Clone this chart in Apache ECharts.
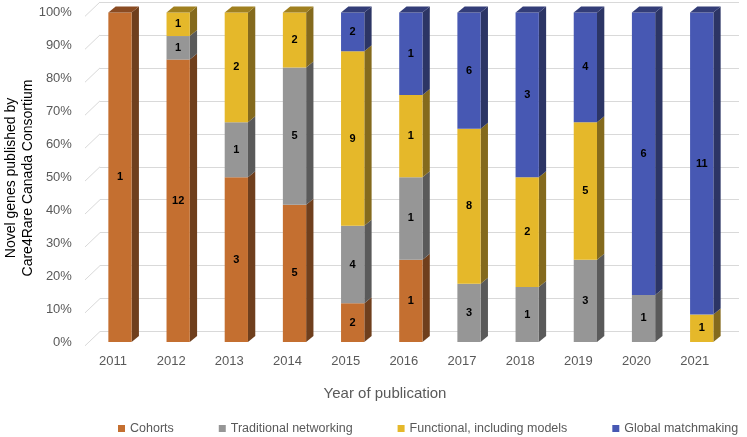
<!DOCTYPE html>
<html><head><meta charset="utf-8">
<script src="https://cdn.jsdelivr.net/npm/echarts@6/dist/echarts.min.js"></script>
<style>html,body{margin:0;padding:0;background:#fff}#c{width:747px;height:437px}</style>
</head><body><div id="c"></div><script>
const years = ['2011','2012','2013','2014','2015','2016','2017','2018','2019','2020','2021'];
const cohorts     = [1,12,3,5,2,1,0,0,0,0,0];
const traditional = [0,1,1,5,4,1,3,1,3,1,0];
const functional  = [0,1,2,2,9,1,8,2,5,0,1];
const globalMatch = [0,0,0,0,2,1,6,3,4,6,11];
const seriesNames = ['Cohorts','Traditional networking','Functional, including models','Global matchmaking'];
const yTicks = [0,10,20,30,40,50,60,70,80,90,100];

const colors = [
  {front:'#C46F30', side:'#6F3F1D', top:'#8A4B22'},
  {front:'#969696', side:'#5A5A5A', top:'#6C6C6C'},
  {front:'#E5B82A', side:'#846A1D', top:'#A0801F'},
  {front:'#4758B3', side:'#2C3565', top:'#333D78'}
];
const allSeries = [cohorts, traditional, functional, globalMatch];
const totals = years.map((y,i)=>allSeries.reduce((s,a)=>s+a[i],0));
const FONT = '"Liberation Sans", Arial, sans-serif';

// build stacked segment data [catIdx, lowPct, highPct, count, isTop]
const segData = allSeries.map(()=>[]);
years.forEach((y,i)=>{
  let cum = 0;
  let lastSi = -1;
  allSeries.forEach((a,si)=>{ if(a[i]>0) lastSi = si; });
  allSeries.forEach((a,si)=>{
    if(a[i]>0){
      const lo = cum/totals[i]*100;
      cum += a[i];
      const hi = cum/totals[i]*100;
      segData[si].push([i, lo, hi, a[i], si===lastSi?1:0]);
    }
  });
});

const DX = 7.3, DY = 6;
function makeRender(si){
  return function(params, api){
    const idx = api.value(0), lo = api.value(1), hi = api.value(2), cnt = api.value(3), isTop = api.value(4);
    const pLo = api.coord([idx, lo]);
    const pHi = api.coord([idx, hi]);
    const bw = api.size([1,0])[0]*0.4;
    const xl = pLo[0]-bw/2, xr = pLo[0]+bw/2;
    const c = colors[si];
    const children = [
      {type:'polygon', shape:{points:[[xr,pHi[1]],[xr+DX,pHi[1]-DY],[xr+DX,pLo[1]-DY],[xr,pLo[1]]]}, style:{fill:c.side}},
      {type:'rect', shape:{x:xl,y:pHi[1],width:bw,height:pLo[1]-pHi[1]}, style:{fill:c.front}}
    ];
    if(isTop){
      children.push({type:'polygon', shape:{points:[[xl,pHi[1]],[xl+DX,pHi[1]-DY],[xr+DX,pHi[1]-DY],[xr,pHi[1]]]}, style:{fill:c.top}});
    }
    children.push({type:'text', style:{text:String(cnt), x:pLo[0], y:(pLo[1]+pHi[1])/2, align:'center', verticalAlign:'middle', font:'bold 11px '+FONT, fill:'#000'}});
    return {type:'group', children};
  };
}

const series = seriesNames.map((n,si)=>({
  name:n, type:'custom', xAxisIndex:0, yAxisIndex:0,
  itemStyle:{color:colors[si].front},
  encode:{x:0, y:[1,2]},
  renderItem: makeRender(si),
  data: segData[si],
  z: 3
}));
series.push({
  name:'diag', type:'custom', xAxisIndex:1, yAxisIndex:1, silent:true, z:1,
  encode:{x:0,y:1},
  data: yTicks.map(v=>[0,v]),
  renderItem:function(params, api){
    const p = api.coord([0, api.value(1)]);
    return {type:'line', shape:{x1:p[0]-15, y1:p[1]+14.3, x2:p[0], y2:p[1]}, style:{stroke:'#D9D9D9', lineWidth:1}};
  }
});

const chart = echarts.init(document.getElementById('c'));
chart.setOption({
  animation:false,
  backgroundColor:'#fff',
  grid:[
    {left:90.9, right:16.2, top:12.5, bottom:95, containLabel:false, outerBoundsMode:'none'},
    {left:100, right:8, top:2, bottom:105.5, containLabel:false, outerBoundsMode:'none'}
  ],
  xAxis:[
    {type:'category', gridIndex:0, data:years, axisLine:{show:false}, axisTick:{show:false},
     axisLabel:{color:'#595959', fontSize:13, fontFamily:FONT, margin:13, padding:[0,14,0,0]}},
    {type:'value', gridIndex:1, min:0, max:1, show:false}
  ],
  yAxis:[
    {type:'value', gridIndex:0, min:0, max:100, interval:10, splitLine:{show:false}, axisLine:{show:false}, axisTick:{show:false},
     axisLabel:{formatter:'{value}%', color:'#595959', fontSize:13, fontFamily:FONT, margin:19, padding:[6,0,0,0]}},
    {type:'value', gridIndex:1, min:0, max:100, interval:10, axisLine:{show:false}, axisTick:{show:false}, axisLabel:{show:false},
     splitLine:{show:true, lineStyle:{color:'#D9D9D9', width:1}}}
  ],
  legend:{
    data:seriesNames.map(n=>({name:n, icon:'rect'})),
    left:118, top:422, width:740, padding:0, itemWidth:7, itemHeight:7, itemGap:45,
    textStyle:{color:'#595959', fontSize:12.5, fontFamily:FONT}
  },
  graphic:[
    {type:'text', style:{text:'Year of publication', x:385, y:394, align:'center', verticalAlign:'middle', font:'15px '+FONT, fill:'#595959'}},
    {type:'text', x:19.5, y:178, rotation:Math.PI/2, style:{text:'Novel genes published by\nCare4Rare Canada Consortium', align:'center', verticalAlign:'middle', font:'14px '+FONT, fill:'#000', lineHeight:16.5}}
  ],
  series:series
});
</script></body></html>
